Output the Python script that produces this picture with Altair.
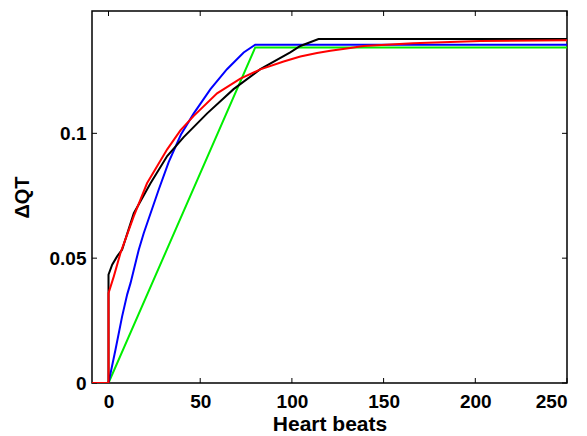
import altair as alt
import pandas as pd

# Series
green_x = [-9, 0, 80, 250]
green_y = [0, 0, 0.1344, 0.1344]

blue_x = [-9, 0, 3.8, 7.4, 10.2, 12, 16.5, 19.2, 27.4, 32.8, 39.5, 46.5, 55.6, 64.6, 73.7, 80, 250]
blue_y = [0, 0, 0.0133, 0.0266, 0.0355, 0.040, 0.0534, 0.060, 0.0775, 0.0885, 0.0995, 0.108, 0.1177, 0.1257, 0.1324, 0.1355, 0.1355]

black_x = [-9, 0, 0, 2, 4.7, 7.4, 13.8, 22.9, 32, 41, 53.8, 68.2, 82.8, 99.1, 104.6, 114.5, 250]
black_y = [0, 0, 0.0434, 0.0474, 0.0507, 0.0534, 0.068, 0.080, 0.0909, 0.0985, 0.108, 0.1177, 0.1257, 0.1324, 0.135, 0.1378, 0.1378]

red_x = [-9, 0, 0, 2.9, 6.5, 13.8, 21, 32, 39.2, 46.5, 59.2, 71.9, 82.8, 95.5, 104.6, 113.7, 121, 131.8, 139, 166, 202.6, 250]
red_y = [0, 0, 0.036, 0.0427, 0.052, 0.0668, 0.080, 0.0936, 0.1012, 0.107, 0.116, 0.1219, 0.1256, 0.1288, 0.1308, 0.1322, 0.1331, 0.1342, 0.135, 0.1361, 0.137, 0.1373]

x_ticks = [0, 50, 100, 150, 200, 250]
y_ticks = [0, 0.05, 0.1]

series = [("green", green_x, green_y, "#00ee00"),
          ("blue", blue_x, blue_y, "#0000ff"),
          ("black", black_x, black_y, "#000000"),
          ("red", red_x, red_y, "#ff0000")]

W, H = 475, 372
xscale = alt.Scale(domain=[-9, 250], nice=False, zero=False)
yscale = alt.Scale(domain=[0, 0.149], nice=False, zero=False)

font = "Liberation Sans"

layers = []
for i, (name, xs, ys, col) in enumerate(series):
    df = pd.DataFrame({"x": xs, "y": ys, "o": list(range(len(xs)))})
    enc = dict(
        x=alt.X("x:Q", scale=xscale),
        y=alt.Y("y:Q", scale=yscale),
        order="o:Q",
    )
    if i == 0:
        enc["x"] = alt.X("x:Q", scale=xscale, title="Heart beats",
                         axis=alt.Axis(values=x_ticks, ticks=False, grid=False, domain=False,
                                       labelFont=font, labelFontSize=19, labelFontWeight="bold",
                                       labelColor="black", labelPadding=9,
                                       titleFont=font, titleFontSize=21, titleFontWeight="bold",
                                       titleColor="black", titlePadding=2))
        enc["y"] = alt.Y("y:Q", scale=yscale, title="ΔQT",
                         axis=alt.Axis(values=y_ticks, ticks=False, grid=False, domain=False,
                                       labelFont=font, labelFontSize=19, labelFontWeight="bold",
                                       labelColor="black", labelPadding=6, format="~g",
                                       titleFont=font, titleFontSize=20, titleFontWeight="bold",
                                       titleColor="black", titlePadding=17))
    layers.append(alt.Chart(df).mark_line(color=col, strokeWidth=2, clip=True).encode(**enc))

xt = pd.DataFrame({"v": x_ticks})
yt = pd.DataFrame({"v": y_ticks})
tl = 5
tick_layers = [
    alt.Chart(xt).mark_rule(color="black", strokeWidth=1).encode(
        x=alt.X("v:Q", scale=xscale), y=alt.value(H), y2=alt.value(H - tl)),
    alt.Chart(xt).mark_rule(color="black", strokeWidth=1).encode(
        x=alt.X("v:Q", scale=xscale), y=alt.value(0), y2=alt.value(tl)),
    alt.Chart(yt).mark_rule(color="black", strokeWidth=1).encode(
        y=alt.Y("v:Q", scale=yscale), x=alt.value(0), x2=alt.value(tl)),
    alt.Chart(yt).mark_rule(color="black", strokeWidth=1).encode(
        y=alt.Y("v:Q", scale=yscale), x=alt.value(W), x2=alt.value(W - tl)),
]

chart = alt.layer(*tick_layers, *layers).properties(
    width=W, height=H,
    background="white",
    autosize=alt.AutoSizeParams(type="none"),
    padding={"left": 84, "top": 3, "right": 10, "bottom": 53},
).configure_view(stroke="black", strokeWidth=1.5)

chart.save("out.html", embed_options={"renderer": "svg", "actions": False})
